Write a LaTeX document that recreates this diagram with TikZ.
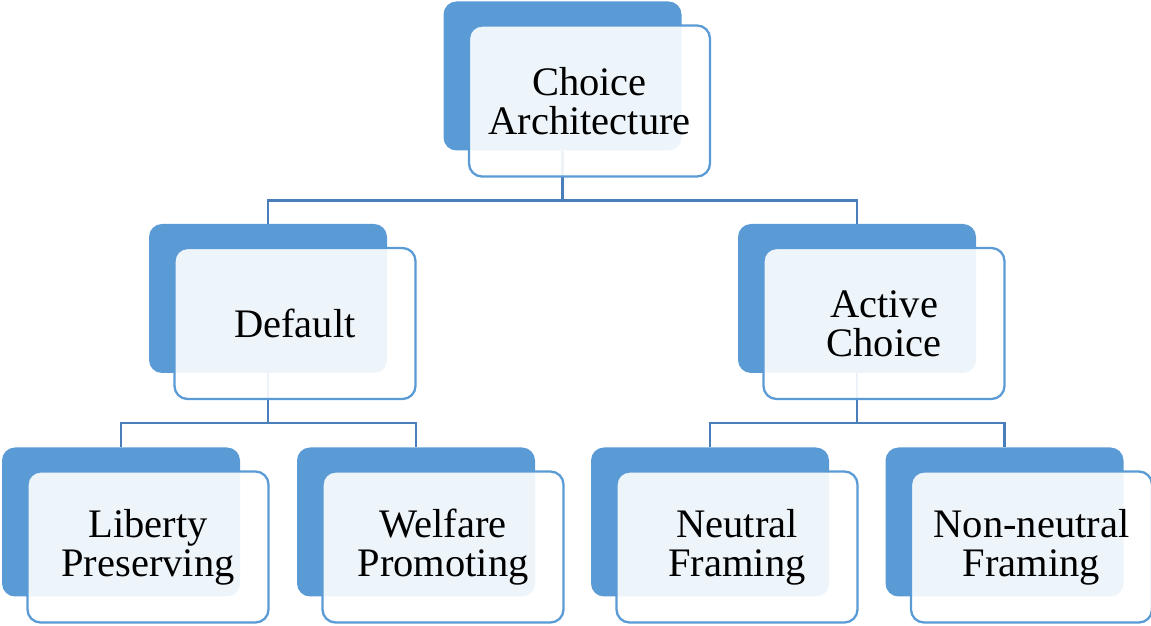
\documentclass[tikz,border=0pt]{standalone}
\usepackage{fontspec}
\setmainfont{Liberation Serif}
\usepackage{xcolor}
\usetikzlibrary{calc, positioning}

\definecolor{boxblue}{RGB}{91,155,213}
\definecolor{linkblue}{RGB}{74,126,187}

\tikzset{
  backbox/.style={fill=boxblue, draw=none, rounded corners=13pt,
    minimum width=238pt, minimum height=149pt, inner sep=0pt},
  frontbox/.style={draw=boxblue, line width=2.3pt, fill=white, fill opacity=0.9,
    text opacity=1, rounded corners=13pt, minimum width=241pt,
    minimum height=151pt, inner sep=0pt, align=center,
    font=\fontsize{40.5}{39}\selectfont},
  link/.style={draw=linkblue, line width=2.5pt}
}

\begin{document}
\begin{tikzpicture}[x=1pt, y=1pt]

  \useasboundingbox (0,0) rectangle (1151,626);

  % Back (filled) boxes of the tree
  \node[backbox] (ca-b)  at (562.5, 550) {};
  \node[backbox] (def-b) at (268, 327.5) {};
  \node[backbox] (act-b) at (857, 327.5) {};
  \node[backbox] (lib-b) at (121, 104) {};
  \node[backbox] (wel-b) at (416, 104) {};
  \node[backbox] (neu-b) at (710, 104) {};
  \node[backbox] (non-b) at (1004.5, 104) {};

  % Connectors (drawn under the front boxes)
  \foreach \p/\c in {ca-b/def-b, ca-b/act-b, def-b/lib-b, def-b/wel-b, act-b/neu-b, act-b/non-b} {
    \draw[link] (\p.south) -- ++(0,-50) -| (\c.north);
  }

  % Front boxes with the labels
  \node[frontbox] (ca)  at ([shift={(27,-25)}]ca-b.center)  {Choice\\Architecture};
  \node[frontbox] (def) at ([shift={(27,-25)}]def-b.center) {Default};
  \node[frontbox] (act) at ([shift={(27,-25)}]act-b.center) {Active\\Choice};
  \node[frontbox] (lib) at ([shift={(27,-25)}]lib-b.center) {Liberty\\Preserving};
  \node[frontbox] (wel) at ([shift={(27,-25)}]wel-b.center) {Welfare\\Promoting};
  \node[frontbox] (neu) at ([shift={(27,-25)}]neu-b.center) {Neutral\\Framing};
  \node[frontbox] (non) at ([shift={(27,-25)}]non-b.center) {Non-neutral\\Framing};

\end{tikzpicture}
\end{document}
